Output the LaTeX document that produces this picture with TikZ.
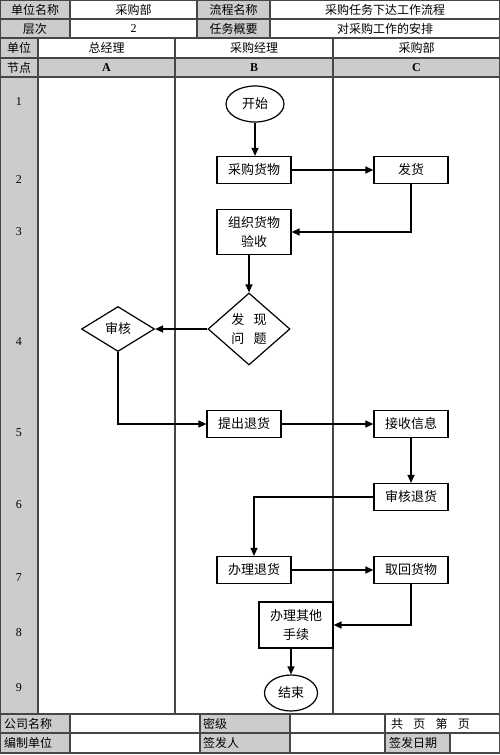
\documentclass[tikz,border=0pt]{standalone}
\usepackage{fontspec}
\setmainfont{Liberation Serif}
\newfontfamily\cjk{Noto Sans CJK SC}
\usetikzlibrary{shapes.geometric, arrows.meta, positioning, calc}
\definecolor{cellgray}{RGB}{204, 204, 204}
\definecolor{lanegray}{RGB}{70, 70, 70}

\begin{document}
\begin{tikzpicture}[x=1pt, y=-1pt,
  cell/.style={draw=lanegray, line width=1.1pt},
  celltxt/.style={font=\cjk\fontsize{12}{14}\selectfont, inner sep=0pt},
  numtxt/.style={font=\fontsize{12}{14}\selectfont, inner sep=0pt},
  stepbox/.style={draw, line width=1.2pt, fill=white, minimum width=74pt, minimum height=27pt, inner sep=1pt, align=center, font=\cjk\fontsize{13}{19}\selectfont},
  startend/.style={draw, ellipse, line width=1.2pt, fill=white, inner sep=0pt, font=\cjk\fontsize{13}{15}\selectfont},
  decision/.style={draw, diamond, line width=1.2pt, fill=white, inner sep=0pt, align=center, font=\cjk\fontsize{13}{19}\selectfont},
  flow/.style={-{Triangle[length=8pt, width=7pt]}, line width=1.3pt}
]
  \useasboundingbox (0,0) rectangle (500,755);

  % Header table
  \foreach \xa/\xb/\ya/\yb/\col/\txt [count=\i] in {
      0/70/0/19/cellgray/单位名称, 70/197/0/19/white/采购部,
      197/270/0/19/cellgray/流程名称, 270/500/0/19/white/采购任务下达工作流程,
      0/70/19/38/cellgray/层次, 70/197/19/38/white/{\rmfamily 2},
      197/270/19/38/cellgray/任务概要, 270/500/19/38/white/对采购工作的安排,
      0/38/38/58/cellgray/单位, 38/175/38/58/white/总经理,
      175/333/38/58/white/采购经理, 333/500/38/58/white/采购部,
      0/38/58/77/cellgray/节点, 38/175/58/77/cellgray/{\rmfamily\bfseries A},
      175/333/58/77/cellgray/{\rmfamily\bfseries B}, 333/500/58/77/cellgray/{\rmfamily\bfseries C}}
  {
    \filldraw[cell, fill=\col] (\xa,\ya) rectangle (\xb,\yb);
    \node[celltxt] (head\i) at ({(\xa+\xb)/2},{(\ya+\yb)/2}) {\txt};
  }

  % Lanes
  \filldraw[cell, fill=cellgray] (0,77) rectangle (38,714);
  \draw[cell] (38,77) rectangle (500,714);
  \draw[cell] (175,77) -- (175,714);
  \draw[cell] (333,77) -- (333,714);
  \foreach \n/\y in {1/102, 2/180, 3/232, 4/342, 5/433, 6/505, 7/578, 8/633, 9/688}
    \node[numtxt] (node\n) at (19,\y) {\n};

  % Footer table
  \foreach \xa/\xb/\ya/\yb/\col in {
      0/70/714/733/cellgray, 70/200/714/733/white, 200/290/714/733/cellgray,
      290/385/714/733/white, 385/500/714/733/white,
      0/70/733/753/cellgray, 70/200/733/753/white, 200/290/733/753/cellgray,
      290/385/733/753/white, 385/450/733/753/cellgray, 450/500/733/753/white}
    \filldraw[cell, fill=\col] (\xa,\ya) rectangle (\xb,\yb);
  \node[celltxt, anchor=west] (company) at (4,723.5) {公司名称};
  \node[celltxt, anchor=west] (secret) at (203,723.5) {密级};
  \node[celltxt, anchor=west] (pages) at (391,723.5) {共\hspace{0.85em}页\hspace{0.85em}第\hspace{0.85em}页};
  \node[celltxt, anchor=west] (editor) at (4,743) {编制单位};
  \node[celltxt, anchor=west] (signer) at (203,743) {签发人};
  \node[celltxt, anchor=west] (signdate) at (389,743) {签发日期};
  \draw[line width=1.4pt, lanegray] (0.7,0.7) rectangle (499.3,753);

  % Flow
  \node[startend, minimum width=58pt, minimum height=36pt] (start) at (255,104) {开始};
  \node[stepbox] (buy) at (254,170) {采购货物};
  \node[stepbox] (ship) at (411,170) {发货};
  \node[stepbox, minimum height=45pt] (accept) at (254,232) {组织货物\\验收};
  \node[decision, minimum width=82pt, minimum height=72pt] (issue) at (249,329) {发\hspace{0.7em}现\\问\hspace{0.7em}题};
  \node[decision, minimum width=73pt, minimum height=45pt] (review) at (118,329) {审核};
  \node[stepbox] (raise) at (244,424) {提出退货};
  \node[stepbox] (receive) at (411,424) {接收信息};
  \node[stepbox] (audit) at (411,497) {审核退货};
  \node[stepbox] (handle) at (254,570) {办理退货};
  \node[stepbox] (fetch) at (411,570) {取回货物};
  \node[stepbox, minimum height=46pt] (other) at (296,625) {办理其他\\手续};
  \node[startend, minimum width=53pt, minimum height=36pt] (finish) at (291,693) {结束};

  \draw[flow] (start.south) -- (start.south |- buy.north);
  \draw[flow] (buy) -- (ship);
  \draw[flow] (ship.south) |- (accept.east);
  \draw[flow] (accept.south -| issue.north) -- (issue.north);
  \draw[flow] (issue.west) -- (review.east);
  \draw[flow] (review.south) |- (raise.west);
  \draw[flow] (raise) -- (receive);
  \draw[flow] (receive) -- (audit);
  \draw[flow] (audit.west) -| (handle.north);
  \draw[flow] (handle) -- (fetch);
  \draw[flow] (fetch.south) |- (other.east);
  \draw[flow] (other.south -| finish.north) -- (finish.north);
\end{tikzpicture}
\end{document}
